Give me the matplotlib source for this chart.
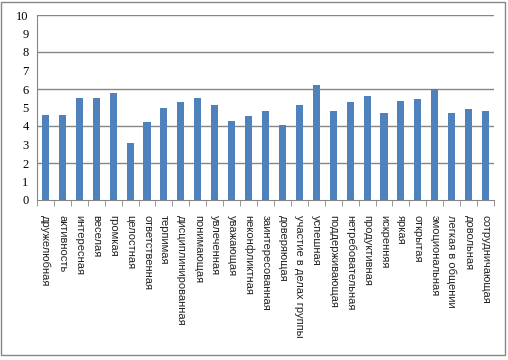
import matplotlib.pyplot as plt
from matplotlib.patches import Rectangle

labels = ['дружелюбная', 'активность', 'интересная', 'веселая', 'громкая',
          'целостная', 'ответственная', 'терпимая', 'дисциплинированная',
          'понимающая', 'увлеченная', 'уважающая', 'неконфликтная',
          'заинтересованная', 'доверяющая', 'участие в делах группы',
          'успешная', 'поддерживающая', 'нетребовательная', 'продуктивная',
          'искренняя', 'яркая', 'открытая', 'эмоциональная',
          'легкая в общении', 'довольная', 'сотрудничающая']
values = [4.6, 4.6, 5.5, 5.5, 5.8, 3.1, 4.2, 5.0, 5.3, 5.5, 5.15, 4.25, 4.55,
          4.8, 4.05, 5.15, 6.2, 4.8, 5.3, 5.6, 4.7, 5.35, 5.45, 6.0, 4.7,
          4.9, 4.8]
yticks = list(range(0, 11))

fig = plt.figure(figsize=(5.08, 3.6), dpi=100)
ax = fig.add_axes([37/508, 1 - 200/360, 457/508, 185/360])

x = list(range(len(values)))
ax.bar(x, values, width=0.42, color='#4F81BD', zorder=3)

ax.set_xlim(-0.5, len(values) - 0.5)
ax.set_ylim(0, 10)
ax.set_yticks(yticks, labels=[str(t) for t in yticks])
for t in ax.get_yticklabels():
    t.set_family('Liberation Serif')
    t.set_fontsize(9)
for y in [2, 4, 6, 8, 10]:
    ax.axhline(y, color='#868686', lw=1, zorder=1)
ax.tick_params(axis='y', length=0, pad=6)

ax.set_xticks(x)
ax.set_xticklabels(labels, rotation=-90, family='Liberation Sans', fontsize=8,
                   color='#222222', ha='center', va='top')
ax.tick_params(axis='x', length=0, pad=11)
ax.set_xticks([i - 0.5 for i in range(len(values) + 1)], minor=True)
ax.tick_params(axis='x', which='minor', length=4, color='#868686')

for s in ['top', 'right']:
    ax.spines[s].set_visible(False)
ax.spines['left'].set_color('#868686')
ax.spines['bottom'].set_color('#868686')

fig.patches.append(Rectangle((1/508, 1 - 355/360), 504/508, 353/360,
                             transform=fig.transFigure, fill=False,
                             edgecolor='#868686', lw=1))

fig.savefig('out.png', dpi=100)
